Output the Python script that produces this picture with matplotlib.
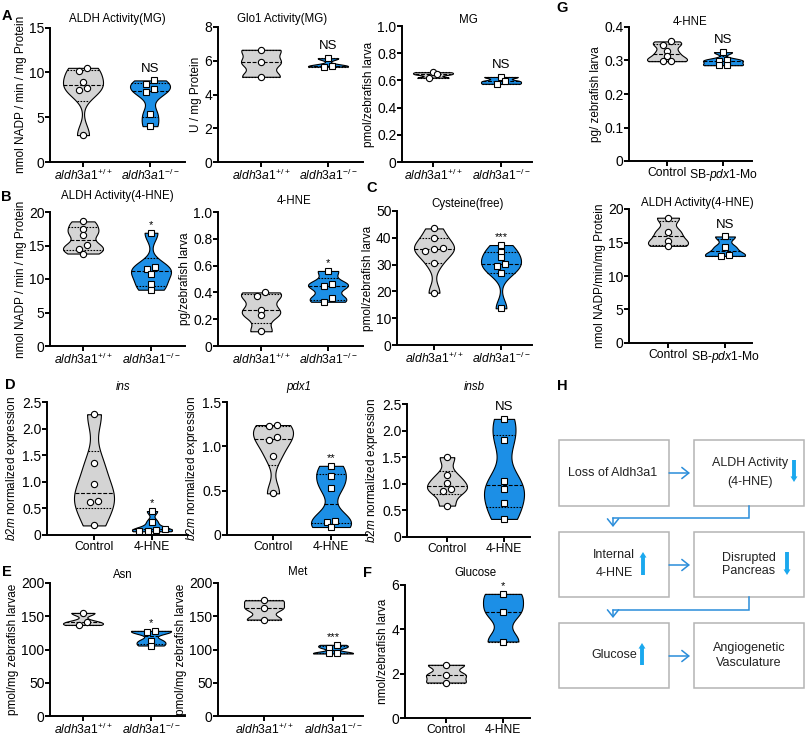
import numpy as np
import matplotlib
matplotlib.use('Agg')
import matplotlib.pyplot as plt
from matplotlib import mlab
from matplotlib.patches import Rectangle, FancyArrowPatch
from matplotlib.ticker import FuncFormatter

plt.rcParams['font.family'] = ['Liberation Sans', 'DejaVu Sans']
plt.rcParams['mathtext.fontset'] = 'custom'
plt.rcParams['mathtext.rm'] = 'Liberation Sans'
plt.rcParams['mathtext.it'] = 'Liberation Sans:italic'
plt.rcParams['mathtext.bf'] = 'Liberation Sans:bold'

# ---- data ----
aldh_mg_wt = [10.2, 10.5, 8.9, 8.2, 8.0, 3.0]
aldh_mg_ko = [8.7, 9.1, 8.1, 7.8, 5.4, 4.0]
glo1_wt = [6.65, 5.9, 5.05]
glo1_ko = [6.15, 5.65, 5.7]
mg_wt = [0.66, 0.62, 0.645]
mg_ko = [0.625, 0.575, 0.595]
aldh_hne_wt = [18.6, 17.5, 16.6, 15.1, 14.5, 13.8]
aldh_hne_ko = [16.9, 11.8, 11.5, 10.8, 9.2, 8.4]
hne_wt = [0.40, 0.37, 0.27, 0.23, 0.11]
hne_ko = [0.56, 0.45, 0.46, 0.36, 0.33]
cys_wt = [43.5, 39.8, 36.2, 36.0, 35.2, 30.5, 19.5]
cys_ko = [37.3, 34.6, 32.8, 30.3, 29.3, 27.0, 13.7]
ins_ctrl = [2.27, 1.35, 0.95, 0.64, 0.62, 0.18]
ins_hne = [0.45, 0.25, 0.07, 0.10, 0.08, 0.11]
pdx1_ctrl = [1.23, 1.24, 1.07, 1.10, 0.89, 0.47]
pdx1_hne = [0.78, 0.66, 0.53, 0.16, 0.15, 0.09]
insb_ctrl = [1.50, 1.16, 1.02, 0.90, 0.87, 0.59]
insb_hne = [2.22, 1.82, 1.06, 0.90, 0.64, 0.34]
asn_wt = [155, 137, 141]
asn_ko = [127, 128, 113, 106]
met_wt = [174, 162, 145]
met_ko = [107, 103, 94, 95]
glu_ctrl = [2.4, 1.95, 1.6]
glu_hne = [5.6, 4.8, 3.45]
g_hne_ctrl = [0.357, 0.347, 0.327, 0.312, 0.298, 0.300]
g_hne_mo = [0.325, 0.301, 0.300, 0.287, 0.286]
g_aldh_ctrl = [18.7, 16.6, 15.2, 14.5]
g_aldh_mo = [15.9, 14.3, 13.0, 13.2]

geno_labels = [r'$\mathit{aldh3a1}^{\mathit{+/+}}$', r'$\mathit{aldh3a1}^{\mathit{-/-}}$']
treat_labels = ['Control', '4-HNE']
morph_labels = ['Control', r'SB-$\mathit{pdx1}$-Mo']

flow_lines = [('Loss of Aldh3a1', 613, 473),
              ('ALDH Activity', 750, 463), ('(4-HNE)', 750, 482),
              ('Internal', 614, 555), ('4-HNE', 614, 573),
              ('Disrupted', 749, 558), ('Pancreas', 749, 571),
              ('Glucose', 614, 655),
              ('Angiogenetic', 749, 648), ('Vasculature', 749, 663)]

W, H = 806, 738
GRAY = '#D4D4D4'
BLUE = '#1C8FE6'
BW = 0.4

fig = plt.figure(figsize=(W / 100, H / 100), dpi=100)

# overlay axis in pixel coordinates for titles, letters and the flow chart
hax = fig.add_axes([0, 0, 1, 1], zorder=-1)
hax.set_xlim(0, W)
hax.set_ylim(H, 0)
hax.axis('off')


def violin(ax, pos, vals, color, hw):
    v = np.asarray(vals, float)
    ys = np.linspace(v.min(), v.max(), 200)
    dens = mlab.GaussianKDE(v, BW).evaluate(ys)
    w = dens / dens.max() * hw
    ax.fill_betweenx(ys, pos - w, pos + w, facecolor=color, edgecolor='black',
                     linewidth=0.8, zorder=2)
    q1, med, q3 = np.percentile(v, [25, 50, 75], method='weibull')
    for q, ls in [(q1, (0, (1.5, 1.2))), (med, (0, (3.5, 1.5))), (q3, (0, (1.5, 1.2)))]:
        wq = np.interp(q, ys, w)
        ax.plot([pos - wq, pos + wq], [q, q], color='black', lw=0.8, ls=ls, zorder=3)


def swarm(vals, ppu, sp, thr=4.5, gap=8.7):
    v = np.asarray(vals, float)
    order = np.argsort(v)
    groups = []
    for i in order:
        if groups and (v[i] - v[groups[-1][0]]) * ppu < thr:
            groups[-1].append(i)
        else:
            groups.append([i])
    offs = np.zeros(len(v))
    for g in groups:
        n = len(g)
        for k, i in enumerate(g):
            offs[i] = (k - (n - 1) / 2) * gap / sp
    return offs


def fmt_dec(v, _):
    return '0' if abs(v) < 1e-9 else f'{v:.1f}'


def fmt_int(v, _):
    return f'{v:.0f}'


def panel(geom, g1, g2, ylim, step, ylabel, xlabels, sig, dec):
    l, r, t, b, t1, t2 = geom
    ax = fig.add_axes([l / W, 1 - b / H, (r - l) / W, (b - t) / H])
    sp = t2 - t1
    ax.set_xlim(1 - (t1 - l) / sp, 2 + (r - t2) / sp)
    ax.set_ylim(*ylim)
    ppu = (b - t) / (ylim[1] - ylim[0])
    for pos, vals, color, mk in zip([1, 2], [g1, g2], [GRAY, BLUE], ['o', 's']):
        violin(ax, pos, vals, color, 20 / sp)
        offs = swarm(vals, ppu, sp)
        ax.plot(pos + offs, vals, ls='none', marker=mk, ms=4.5, mfc='white',
                mec='black', mew=0.8, zorder=4, clip_on=False)
    if sig == 'NS':
        ax.annotate(sig, (2, max(g2)), xytext=(0, 8.5), textcoords='offset points',
                    ha='center', va='center', fontsize=9.5)
    else:
        ax.annotate(sig, (2, max(g2)), xytext=(0, 5.5), textcoords='offset points',
                    ha='center', va='center', fontsize=8)
    ax.set_yticks(np.arange(ylim[0], ylim[1] + step / 2, step))
    ax.yaxis.set_major_formatter(FuncFormatter(fmt_dec if dec else fmt_int))
    ax.set_xticks([1, 2])
    ax.set_xticklabels(xlabels, fontsize=8.7)
    ax.set_ylabel(ylabel, fontsize=8.5, labelpad=1.5)
    for s in ['top', 'right']:
        ax.spines[s].set_visible(False)
    for s in ['left', 'bottom']:
        ax.spines[s].set_linewidth(1.4)
    ax.tick_params(direction='out', length=3.5, width=1.4, pad=0.5)
    ax.tick_params(axis='y', labelsize=10)
    return ax


b2m = r'$\mathit{b2m}$ normalized expression'

panel((50, 185, 27.5, 162, 83, 150), aldh_mg_wt, aldh_mg_ko, (0, 15), 5,
      'nmol NADP / min / mg Protein', geno_labels, 'NS', False)
panel((218, 363, 27, 162, 261, 328), glo1_wt, glo1_ko, (0, 8), 2,
      'U / mg Protein', geno_labels, 'NS', False)
panel((402, 532, 26, 162, 433, 501), mg_wt, mg_ko, (0, 1.0), 0.2,
      'pmol/zebrafish larva', geno_labels, 'NS', True)
panel((50, 185, 212, 346, 83, 151), aldh_hne_wt, aldh_hne_ko, (0, 20), 5,
      'nmol NADP / min / mg Protein', geno_labels, '*', False)
panel((218, 363, 212, 346, 261, 328), hne_wt, hne_ko, (0, 1.0), 0.2,
      'pg/zebrafish larva', geno_labels, '*', True)
panel((397, 532, 211, 345, 434, 501), cys_wt, cys_ko, (0, 50), 10,
      'pmol/zebrafish larva', geno_labels, '***', False)
panel((47, 188, 402, 535, 94, 152), ins_ctrl, ins_hne, (0, 2.5), 0.5,
      b2m, treat_labels, '*', True)
panel((227, 367, 402, 535, 273, 331), pdx1_ctrl, pdx1_hne, (0, 1.5), 0.5,
      b2m, treat_labels, '**', True)
panel((407, 530, 404, 537, 447, 504), insb_ctrl, insb_hne, (0, 2.5), 0.5,
      b2m, treat_labels, 'NS', True)
panel((50, 185, 583, 716, 83, 151), asn_wt, asn_ko, (0, 200), 50,
      'pmol/mg zebrafish larvae', geno_labels, '*', False)
panel((218, 363, 583, 716, 264, 333), met_wt, met_ko, (0, 200), 50,
      'pmol/mg zebrafish larvae', geno_labels, '***', False)
panel((405, 530, 585, 718, 446, 503), glu_ctrl, glu_hne, (0, 6), 2,
      'nmol/zebrafish larva', treat_labels, '*', False)
panel((629, 752, 27, 161, 667, 723), g_hne_ctrl, g_hne_mo, (0, 0.4), 0.1,
      'pg/ zebrafish larva', morph_labels, 'NS', True)
panel((629, 752, 209, 343, 668, 725), g_aldh_ctrl, g_aldh_mo, (0, 20), 5,
      'nmol NADP/min/mg Protein', morph_labels, 'NS', False)

# titles
titles = [('ALDH Activity(MG)', 117, 19, 'normal'), ('Glo1 Activity(MG)', 282, 19, 'normal'),
          ('MG', 468, 20, 'normal'), ('ALDH Activity(4-HNE)', 117, 196, 'normal'),
          ('4-HNE', 294, 201, 'normal'), ('Cysteine(free)', 468, 204, 'normal'),
          ('ins', 123, 387, 'italic'), ('pdx1', 299, 387, 'italic'), ('insb', 474, 387, 'italic'),
          ('Asn', 123, 575, 'normal'), ('Met', 298, 572, 'normal'), ('Glucose', 475, 573, 'normal'),
          ('4-HNE', 690, 22, 'normal'), ('ALDH Activity(4-HNE)', 697, 203, 'normal')]
for txt, x, y, st in titles:
    hax.text(x, y, txt, ha='center', va='center', fontsize=8.3, style=st)

letters = [('A', 7, 16), ('B', 6, 197), ('C', 372, 188), ('D', 10, 385), ('E', 7, 572),
           ('F', 368, 573), ('G', 562, 8), ('H', 562, 386)]
for txt, x, y in letters:
    hax.text(x, y, txt, ha='center', va='center', fontsize=10.5, fontweight='bold')

# ---- flow chart (panel H) ----
BOX = '#B4B4B4'
ARR = '#2A8DDA'
CYAN = '#1AA8EE'
for x0 in (559, 694):
    for y0, y1 in ((440, 506), (532, 597), (623, 688)):
        hax.add_patch(Rectangle((x0, y0), 110, y1 - y0, facecolor='white',
                                edgecolor=BOX, lw=1.1))
for txt, x, y in flow_lines:
    hax.text(x, y, txt, ha='center', va='center', fontsize=9, color='#222222')

for y in (473, 565, 656):
    hax.add_patch(FancyArrowPatch((669, y), (690, y), arrowstyle='->,head_length=0.5,head_width=0.4',
                                  mutation_scale=10, color=ARR, lw=1.1, shrinkA=0, shrinkB=0))
for ytop, ymid, ytip in ((506, 518, 527), (597, 610, 618)):
    hax.plot([749, 749, 613], [ytop, ymid, ymid], color=ARR, lw=1.1, solid_joinstyle='miter')
    hax.add_patch(FancyArrowPatch((613, ymid), (613, ytip), arrowstyle='->,head_length=0.5,head_width=0.4',
                                  mutation_scale=10, color=ARR, lw=1.1, shrinkA=0, shrinkB=0))

for x, ya, yb in ((794, 460, 482), (643, 575, 552), (787, 552, 575), (642, 665, 643)):
    hax.add_patch(FancyArrowPatch((x, ya), (x, yb),
                                  arrowstyle='simple,head_length=0.4,head_width=0.5,tail_width=0.28',
                                  mutation_scale=10, color=CYAN, lw=0, shrinkA=0, shrinkB=0))

fig.savefig('out.png', dpi=100, facecolor='white')
